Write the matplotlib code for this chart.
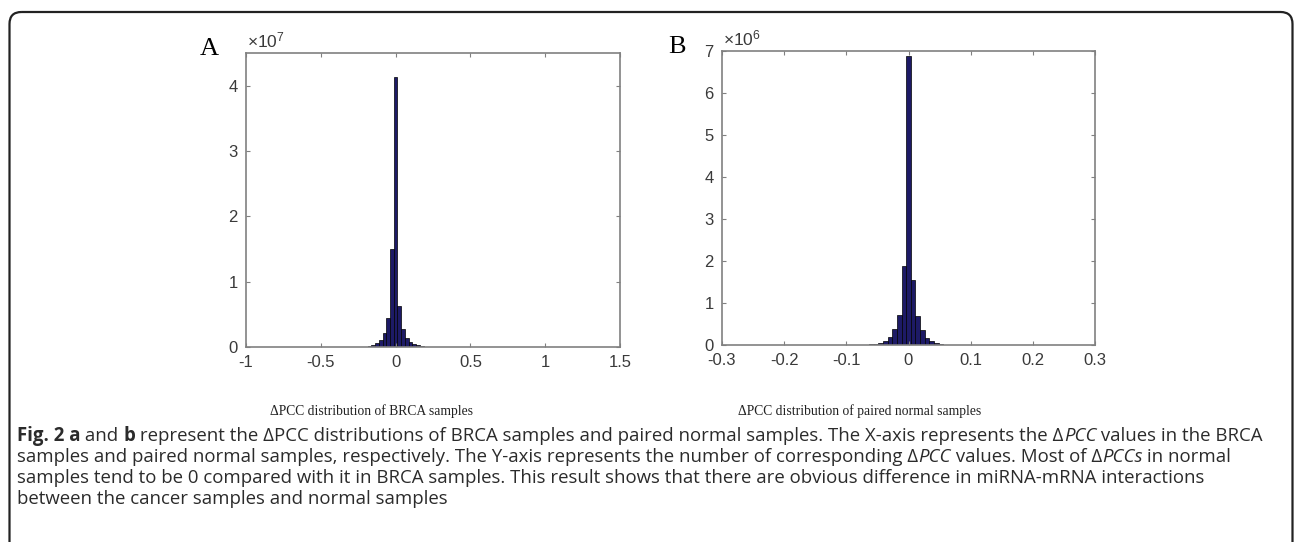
import numpy as np
import matplotlib.pyplot as plt
from matplotlib.patches import FancyBboxPatch

plt.rcParams['mathtext.fontset'] = 'custom'
plt.rcParams['mathtext.rm'] = 'Liberation Sans'
plt.rcParams['mathtext.it'] = 'Liberation Sans:italic'

# histogram of delta PCC, BRCA samples (counts x 1e7)
brca_centers = [-0.225, -0.2, -0.175, -0.15, -0.125, -0.1, -0.075, -0.05, -0.025, 0.0,
                0.025, 0.05, 0.075, 0.1, 0.125, 0.15, 0.175, 0.2, 0.225]
brca_counts = [0.003, 0.007, 0.015, 0.03, 0.06, 0.11, 0.21, 0.44, 1.5, 4.13,
               0.62, 0.28, 0.14, 0.08, 0.045, 0.025, 0.012, 0.006, 0.003]
brca_width = 0.025

# histogram of delta PCC, paired normal samples (counts x 1e6)
normal_centers = [-0.0675, -0.06, -0.0525, -0.045, -0.0375, -0.03, -0.0225, -0.015, -0.0075, 0.0,
                  0.0075, 0.015, 0.0225, 0.03, 0.0375, 0.045, 0.0525, 0.06, 0.0675]
normal_counts = [0.006, 0.012, 0.025, 0.05, 0.1, 0.2, 0.38, 0.72, 1.88, 6.88,
                 1.55, 0.7, 0.35, 0.17, 0.09, 0.045, 0.022, 0.01, 0.005]
normal_width = 0.0075

brca_xticks = [-1, -0.5, 0, 0.5, 1, 1.5]
brca_xlabels = ['-1', '-0.5', '0', '0.5', '1', '1.5']
normal_xticks = [-0.3, -0.2, -0.1, 0, 0.1, 0.2, 0.3]
normal_xlabels = ['-0.3', '-0.2', '-0.1', '0', '0.1', '0.2', '0.3']

W, H = 1295, 542
fig = plt.figure(figsize=(W / 100, H / 100), dpi=100)

# page layer in pixel coordinates
bg = fig.add_axes([0, 0, 1, 1], zorder=-1)
bg.set_xlim(0, W)
bg.set_ylim(H, 0)
bg.axis('off')
bg.add_patch(FancyBboxPatch((9.5, 12), 1283, 560, boxstyle='round,pad=0,rounding_size=12',
                            fill=False, edgecolor='#222222', linewidth=1.6))

bar_face = '#1d1a66'
spine_col = '#808080'
tick_col = '#3a3a3a'


def style_axes(ax):
    for s in ax.spines.values():
        s.set_color(spine_col)
        s.set_linewidth(1.2)
    ax.tick_params(direction='in', length=3, width=0.8, color=spine_col,
                   top=True, right=True, labelsize=12, labelcolor=tick_col, pad=6)
    for lab in ax.get_xticklabels() + ax.get_yticklabels():
        lab.set_family('Liberation Sans')


def px_axes(left, top, right, bottom):
    return fig.add_axes([left / W, (H - bottom) / H, (right - left) / W, (bottom - top) / H])


axA = px_axes(246, 53, 620, 347)
axA.bar(brca_centers, brca_counts, width=brca_width, color=bar_face,
        edgecolor='black', linewidth=0.5)
axA.set_xlim(-1, 1.5)
axA.set_ylim(0, 4.5)
axA.set_xticks(brca_xticks)
axA.set_xticklabels(brca_xlabels)
axA.set_yticks([0, 1, 2, 3, 4])
axA.set_yticklabels(['0', '1', '2', '3', '4'])
style_axes(axA)

axB = px_axes(722, 51, 1095, 345)
axB.bar(normal_centers, normal_counts, width=normal_width, color=bar_face,
        edgecolor='black', linewidth=0.5)
axB.set_xlim(-0.3, 0.3)
axB.set_ylim(0, 7)
axB.set_xticks(normal_xticks)
axB.set_xticklabels(normal_xlabels)
axB.set_yticks(range(8))
axB.set_yticklabels([str(i) for i in range(8)])
style_axes(axB)

# exponent labels and panel letters
bg.text(247, 47, r'$\times10^{7}$', fontsize=12.5, color=tick_col, va='baseline')
bg.text(723, 45, r'$\times10^{6}$', fontsize=12.5, color=tick_col, va='baseline')
bg.text(200, 55, 'A', fontsize=19, family='Liberation Serif', va='baseline')
bg.text(668, 53, 'B', fontsize=19, family='Liberation Serif', va='baseline')

# x-axis descriptions
bg.text(372, 415, '\u0394PCC distribution of BRCA samples', fontsize=9.8,
        family='Liberation Serif', ha='center', va='baseline', color='#222222')
bg.text(860, 415, '\u0394PCC distribution of paired normal samples', fontsize=9.8,
        family='Liberation Serif', ha='center', va='baseline', color='#222222')

# figure caption with mixed styles
cap_lines = [
    [('Fig. 2 a', 'bold', 'normal'), (' and ', 'normal', 'normal'), ('b', 'bold', 'normal'),
     (' represent the \u0394PCC distributions of BRCA samples and paired normal samples. '
      'The X-axis represents the \u0394', 'normal', 'normal'),
     ('PCC', 'normal', 'italic'), (' values in the BRCA', 'normal', 'normal')],
    [('samples and paired normal samples, respectively. The Y-axis represents the number of '
      'corresponding \u0394', 'normal', 'normal'), ('PCC', 'normal', 'italic'),
     (' values. Most of \u0394', 'normal', 'normal'), ('PCCs', 'normal', 'italic'),
     (' in normal', 'normal', 'normal')],
    [('samples tend to be 0 compared with it in BRCA samples. This result shows that there are '
      'obvious difference in miRNA-mRNA interactions', 'normal', 'normal')],
    [('between the cancer samples and normal samples', 'normal', 'normal')],
]
cap_y = [441, 462, 483, 504]

renderer = fig.canvas.get_renderer()
for runs, y in zip(cap_lines, cap_y):
    x = 17
    for txt, weight, style in runs:
        t = bg.text(x, y, txt, fontsize=13.4, family='Open Sans', weight=weight,
                    style=style, color='#2b2b2b', va='baseline')
        x += t.get_window_extent(renderer).width

fig.savefig('out.png', dpi=100)
